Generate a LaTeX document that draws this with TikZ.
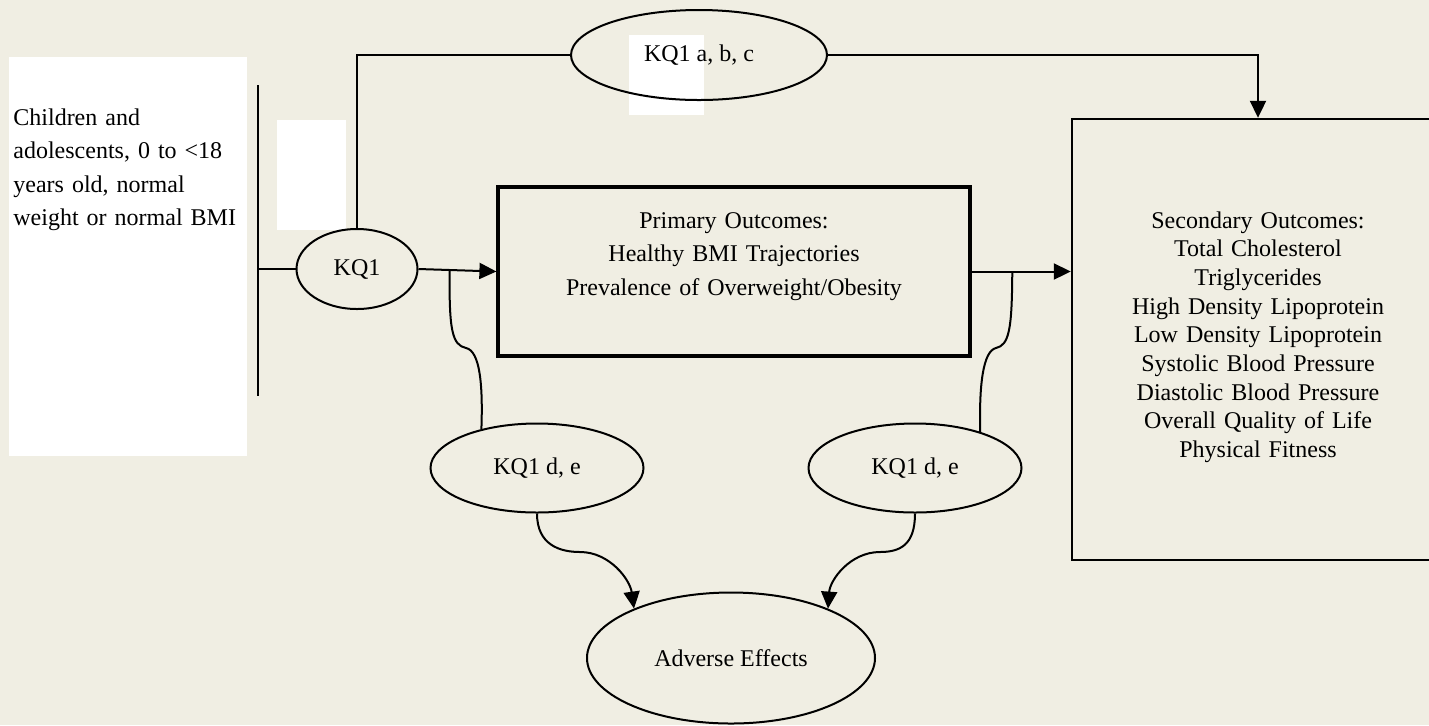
\documentclass[tikz,border=0pt]{standalone}
\usepackage{fontspec}
\setmainfont{Liberation Serif}
\usepackage{tikz}
\usetikzlibrary{arrows.meta, positioning, calc, shapes.geometric}
\definecolor{kbeige}{HTML}{F0EEE3}

\tikzset{
  kqoval/.style={draw, ellipse, line width=1pt, inner sep=0pt,
    font=\fontsize{12pt}{14.35pt}\selectfont},
  kqline/.style={draw, line width=1pt},
  kqarrow/.style={kqline, -{Triangle[length=8.5pt, width=8pt]}},
  kqtext/.style={inner sep=0pt, anchor=base, align=center},
}

\begin{document}
\begin{tikzpicture}[x=0.5pt, y=-0.5pt]
\useasboundingbox (0,0) rectangle (1429,725);
\fill[kbeige] (0,0) rectangle (1429,725);
\fill[white] (9,57) rectangle (247,456);
\fill[white] (277,120) rectangle (346,230);
\fill[white] (629,35) rectangle (704,115);
\node[kqtext, anchor=base west, align=left, text width=120pt,
  font=\fontsize{12pt}{16.75pt}\selectfont] (popn) at (13,125)
  {Children and\\adolescents, 0 to <18\\years old, normal\\weight or normal BMI};
\coordinate (bar top) at (258,85);
\coordinate (bar bottom) at (258,396);
\draw[kqline] (bar top) -- (bar bottom);
\node[kqoval, minimum width=60.5pt, minimum height=40pt] (kq1) at (357,269) {KQ1};
\node[kqoval, minimum width=128pt, minimum height=45pt] (kq1abc) at (699,55) {KQ1 a, b, c};
\node[draw, line width=1.6pt, minimum width=236pt, minimum height=84.5pt, inner sep=0pt]
  (primary) at (734,271.5) {};
\node[kqtext, text width=230pt, font=\fontsize{12pt}{16.75pt}\selectfont]
  (primarytext) at (734,228)
  {Primary Outcomes:\\Healthy BMI Trajectories\\Prevalence of Overweight/Obesity};
\node[draw, line width=1.2pt, minimum width=186pt, minimum height=220.5pt, inner sep=0pt]
  (second) at (1258,339.5) {};
\node[kqtext, text width=180pt, font=\fontsize{12pt}{14.35pt}\selectfont]
  (secondtext) at (1258,228)
  {Secondary Outcomes:\\Total Cholesterol\\Triglycerides\\High Density Lipoprotein\\Low Density Lipoprotein\\Systolic Blood Pressure\\Diastolic Blood Pressure\\Overall Quality of Life\\Physical Fitness};
\node[kqoval, minimum width=106.5pt, minimum height=44.5pt] (kqdeL) at (537,468) {KQ1 d, e};
\node[kqoval, minimum width=106.5pt, minimum height=44.5pt] (kqdeR) at (915,468) {KQ1 d, e};
\node[kqoval, minimum width=144pt, minimum height=65.5pt] (adverse) at (731,658) {Adverse Effects};
% connectors
\draw[kqline] (kq1.west -| bar top) -- (kq1.west);
\draw[kqline] (kq1.north) -- (kq1.north |- kq1abc.west) -- (kq1abc.west);
\draw[kqarrow] (kq1abc.east) -| (second.north);
\draw[kqarrow] (kq1.east) -- (primary.west);
\draw[kqarrow] (primary.east) -- (primary.east -| second.west);
\coordinate (kq1 split) at ($(kq1.east)!0.4!(primary.west)$);
\coordinate (prim split) at ($(primary.east)!0.41!(primary.east -| second.west)$);
\draw[kqline] (kq1 split) .. controls (449,330) and (452,345) .. (466,348)
  .. controls (480,351) and (483,385) .. (kqdeL.145);
\draw[kqline] (prim split) .. controls (1012,330) and (1009,345) .. (996,348)
  .. controls (983,351) and (979,385) .. (kqdeR.29);
\draw[kqarrow] (kqdeL.south) .. controls (537,545) and (560,552) .. (580,552)
  .. controls (610,552) and (630,580) .. (adverse.153);
\draw[kqarrow] (kqdeR.south) .. controls (915,545) and (900,552) .. (880,552)
  .. controls (850,552) and (830,580) .. (adverse.27);
\end{tikzpicture}
\end{document}
